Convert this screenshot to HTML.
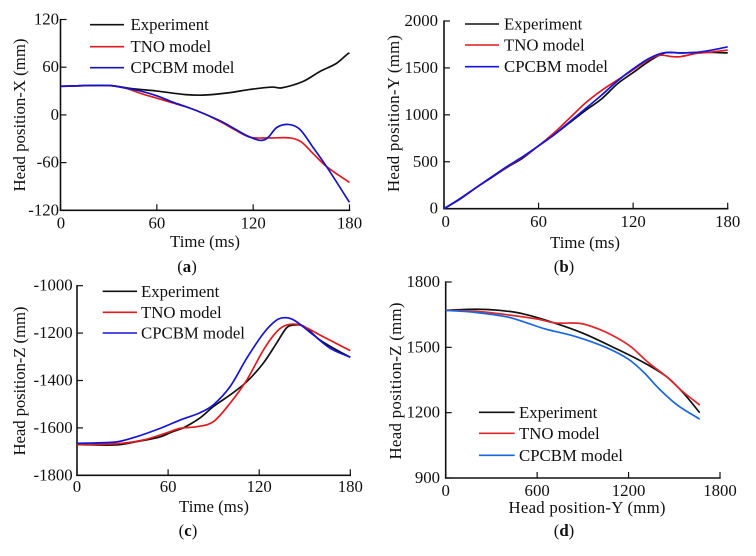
<!DOCTYPE html>
<html>
<head>
<meta charset="utf-8">
<title>Head position charts</title>
<style>
html,body{margin:0;padding:0;background:#fff;}
svg{display:block;filter:blur(0.3px);}
text{font-family:"Liberation Serif",serif;font-size:16.8px;fill:#111;}
</style>
</head>
<body>
<svg id="fig" width="756" height="556" viewBox="0 0 756 556" xmlns="http://www.w3.org/2000/svg"></svg>
<script>
// Panel (a)
const aExperimentT = [0,30,45,60,78,90,105.5,118,132,137.7,151,161.6,172,179,180];
const aExperiment = [36,37,33,30,25.5,25,28,32,35,34,42,54.6,65,77,78];
const aTnoT = [0,30,40,50,60,70,80,90,100,108,118,130.5,143,150,157,165.7,180];
const aTno = [36,37,34,27,21,15,9,1,-9,-18,-28,-29,-29,-34,-48,-65,-85];
const aCpcbmT = [0,30,40,50,60,70,80,90,100,108,116,124.2,129,134.6,141.8,149,157,165.7,180];
const aCpcbm = [36,37,34,30,24,16,9,1,-8,-17,-26,-32,-29,-16,-12,-18,-40,-65,-110];
const aXTicks = [0,60,120,180];
const aYTicks = [-120,-60,0,60,120];
// Panel (b)
const bExperimentT = [0,10,20,30,40,50,60,70,80,90,100,110,120,130,140,150,160,170,180];
const bExperiment = [0,100,220,330,440,540,670,790,920,1050,1170,1330,1450,1570,1660,1660,1665,1665,1660];
const bTnoT = [0,10,20,30,40,50,60,70,80,90,100,110,120,130,137,145,150,160,170,180];
const bTno = [0,105,220,335,445,550,670,810,970,1130,1260,1370,1480,1590,1635,1620,1620,1655,1670,1690];
const bCpcbmT = [0,10,20,30,40,50,60,70,80,90,100,110,120,130,139,150,160,170,180];
const bCpcbm = [0,105,220,335,450,555,670,790,930,1070,1210,1360,1490,1600,1660,1660,1665,1690,1725];
const bXTicks = [0,60,120,180];
const bYTicks = [0,500,1000,1500,2000];
// Panel (c)
const cExperimentT = [0,26,39.3,54.7,63,70,81,89.8,100.8,111.8,122.8,131.5,138,142.5,149,160,171,180];
const cExperiment = [-1670,-1672,-1658,-1638,-1616,-1600,-1558,-1510,-1461,-1405,-1326,-1242,-1178,-1166,-1170,-1229,-1271,-1302];
const cTnoT = [0,26,43.7,59,67.9,78.9,89.8,100.8,111.8,122.8,131.5,138,147,160,180];
const cTno = [-1670,-1667,-1651,-1621,-1602,-1595,-1574,-1496,-1398,-1271,-1194,-1166,-1166,-1208,-1274];
const cCpcbmT = [0,26,39.3,54.7,67.9,81,89.8,100.8,111.8,122.8,131.5,137.7,143.6,155.7,166.7,180];
const cCpcbm = [-1665,-1659,-1637,-1602,-1567,-1536,-1503,-1426,-1306,-1201,-1145,-1135,-1148,-1208,-1264,-1302];
const cXTicks = [0,60,120,180];
const cYTicks = [-1800,-1600,-1400,-1200,-1000];
// Panel (d)
const dExperimentY = [0,200,350,500,700,900,1100,1300,1450,1560,1667];
const dExperiment = [1670,1675,1670,1655,1615,1565,1500,1430,1365,1290,1200];
const dTnoY = [0,200,400,600,720,880,1000,1120,1220,1330,1450,1550,1667];
const dTno = [1670,1665,1650,1630,1612,1610,1585,1545,1500,1430,1365,1300,1235];
const dCpcbmY = [0,200,400,500,650,850,1050,1200,1300,1400,1520,1667];
const dCpcbm = [1670,1660,1640,1620,1585,1550,1500,1445,1385,1310,1235,1170];
const dXTicks = [0,600,1200,1800];
const dYTicks = [900,1200,1500,1800];

const legendNames = ["Experiment","TNO model","CPCBM model"];

const NS = "http://www.w3.org/2000/svg";
const fig = document.getElementById("fig");

function lin(d0,d1,r0,r1){ return v => r0 + (v-d0)*(r1-r0)/(d1-d0); }

function addLine(parent,x1,y1,x2,y2,color,w){
  const l = document.createElementNS(NS,"line");
  l.setAttribute("x1",x1); l.setAttribute("y1",y1);
  l.setAttribute("x2",x2); l.setAttribute("y2",y2);
  l.setAttribute("stroke",color); l.setAttribute("stroke-width",w);
  parent.appendChild(l);
  return l;
}
function addText(parent,x,y,str,anchor){
  const t = document.createElementNS(NS,"text");
  t.setAttribute("x",x); t.setAttribute("y",y);
  t.setAttribute("text-anchor",anchor||"start");
  t.textContent = str;
  parent.appendChild(t);
  return t;
}
// Cubic Hermite through the points, with tangents that respect uneven x spacing.
function smoothPath(xs,ys){
  const n = xs.length;
  const m = xs.map((_,i)=>{
    const a=Math.max(0,i-1), b=Math.min(n-1,i+1);
    return (ys[b]-ys[a])/(xs[b]-xs[a]);
  });
  let d = "M"+xs[0].toFixed(2)+" "+ys[0].toFixed(2);
  for(let i=0;i<n-1;i++){
    const h=(xs[i+1]-xs[i])/3;
    d+="C"+(xs[i]+h).toFixed(2)+" "+(ys[i]+m[i]*h).toFixed(2)+" "+(xs[i+1]-h).toFixed(2)+" "+(ys[i+1]-m[i+1]*h).toFixed(2)+" "+xs[i+1].toFixed(2)+" "+ys[i+1].toFixed(2);
  }
  return d;
}

function drawPanel(p){
  const g = document.createElementNS(NS,"g");
  
  
  fig.appendChild(g);

  const sx = lin(p.xDomain[0],p.xDomain[1],p.left,p.right);
  const sy = lin(p.yDomain[0],p.yDomain[1],p.bottom,p.top);

  const xAxis = addLine(g,p.left-0.8,p.bottom,p.right+0.7,p.bottom,"#111",1.6);
  
  
  const yAxis = addLine(g,p.left,p.bottom,p.left,p.top-0.6,"#111",1.6);
  
  

  p.xTicks.forEach(v=>{
    const tick = addLine(g,sx(v),p.bottom,sx(v),p.bottom-6,"#111",1.2);
    
    
    const lab = addText(g,sx(v)+(v===0?p.zeroDx:0),p.bottom+p.xTickDy,String(v),"middle");
    
    
  });
  p.yTicks.forEach(v=>{
    const tick = addLine(g,p.left,sy(v),p.left+6,sy(v),"#111",1.2);
    
    
    const lab = addText(g,p.left-p.yTickGap,sy(v)+5,String(v),"end");
    
    
  });

  p.series.forEach(s=>{
    const path = document.createElementNS(NS,"path");
    path.setAttribute("d",smoothPath(s.x.map(sx),s.y.map(sy)));
    path.setAttribute("fill","none");
    path.setAttribute("stroke",s.color);
    path.setAttribute("stroke-width","1.7");
    path.setAttribute("stroke-linejoin","round");
    
    
    g.appendChild(path);
  });

  legendNames.forEach((n,i)=>{
    const ly = p.legend.y[i];
    const swatch = addLine(g,p.legend.x1,ly,p.legend.x2,ly,p.series[i].color,1.6);
    
    
    const lab = addText(g,p.legend.tx,ly+5.5,n,"start");
    
    
  });

  const xt = addText(g,p.xTitle[0],p.xTitle[1],p.xLabel,"middle");
  xt.setAttribute("textLength",p.xTitle[2]);
  
  

  const yt = addText(g,0,0,p.yLabel,"middle");
  yt.setAttribute("textLength",p.yTitle[2]);
  yt.setAttribute("transform","translate("+p.yTitle[0]+" "+p.yTitle[1]+") rotate(-90)");
  
  

  const cap = addText(g,p.caption[0],p.caption[1],"","middle");
  
  
  cap.appendChild(document.createTextNode("("));
  const bold = document.createElementNS(NS,"tspan");
  bold.setAttribute("font-weight","bold");
  bold.textContent = p.id;
  cap.appendChild(bold);
  cap.appendChild(document.createTextNode(")"));
}

drawPanel({id:"a",left:60.5,right:349.5,top:19.5,bottom:210.3,xDomain:[0,180],yDomain:[-120,120],
  xTicks:aXTicks,yTicks:aYTicks,xLabel:"Time (ms)",yLabel:"Head position-X (mm)",
  xTickDy:18,yTickGap:1.5,zeroDx:0.5,
  xTitle:[205,247,70],yTitle:[25,115,153],caption:[187,272],
  legend:{x1:90,x2:124,tx:130.5,y:[24.7,46.7,67.7]},
  series:[
    {name:"experiment-line",color:"#111111",x:aExperimentT,y:aExperiment},
    {name:"tno-model-line",color:"#e0191f",x:aTnoT,y:aTno},
    {name:"cpcbm-model-line",color:"#1414c8",x:aCpcbmT,y:aCpcbm}
  ]});
drawPanel({id:"b",left:444,right:727.7,top:21,bottom:208.7,xDomain:[0,180],yDomain:[0,2000],
  xTicks:bXTicks,yTicks:bYTicks,xLabel:"Time (ms)",yLabel:"Head position-Y (mm)",
  xTickDy:18.5,yTickGap:6,zeroDx:1.7,
  xTitle:[585,248,70],yTitle:[399,113.5,157],caption:[564,272],
  legend:{x1:465,x2:499,tx:504,y:[24,45,66.7]},
  series:[
    {name:"experiment-line",color:"#111111",x:bExperimentT,y:bExperiment},
    {name:"tno-model-line",color:"#e0191f",x:bTnoT,y:bTno},
    {name:"cpcbm-model-line",color:"#1414e0",x:bCpcbmT,y:bCpcbm}
  ]});
drawPanel({id:"c",left:77,right:350.3,top:285.7,bottom:475.3,xDomain:[0,180],yDomain:[-1800,-1000],
  xTicks:cXTicks,yTicks:cYTicks,xLabel:"Time (ms)",yLabel:"Head position-Z (mm)",
  xTickDy:16.5,yTickGap:4.3,zeroDx:0,
  xTitle:[214,512,70],yTitle:[25,381,149],caption:[188,536],
  legend:{x1:102.7,x2:137,tx:141,y:[291.3,312.3,333]},
  series:[
    {name:"experiment-line",color:"#111111",x:cExperimentT,y:cExperiment},
    {name:"tno-model-line",color:"#e0191f",x:cTnoT,y:cTno},
    {name:"cpcbm-model-line",color:"#1414d8",x:cCpcbmT,y:cCpcbm}
  ]});
drawPanel({id:"d",left:445.7,right:720,top:282,bottom:478,xDomain:[0,1800],yDomain:[900,1800],
  xTicks:dXTicks,yTicks:dYTicks,xLabel:"Head position-Y (mm)",yLabel:"Head position-Z (mm)",
  xTickDy:18,yTickGap:5.7,zeroDx:0,
  xTitle:[587,513,157],yTitle:[401,381,157],caption:[564,536],
  legend:{x1:479,x2:514.7,tx:519,y:[412.3,433.3,455.3]},
  series:[
    {name:"experiment-line",color:"#111111",x:dExperimentY,y:dExperiment},
    {name:"tno-model-line",color:"#e0282c",x:dTnoY,y:dTno},
    {name:"cpcbm-model-line",color:"#1a66e0",x:dCpcbmY,y:dCpcbm}
  ]});
</script>
</body>
</html>
